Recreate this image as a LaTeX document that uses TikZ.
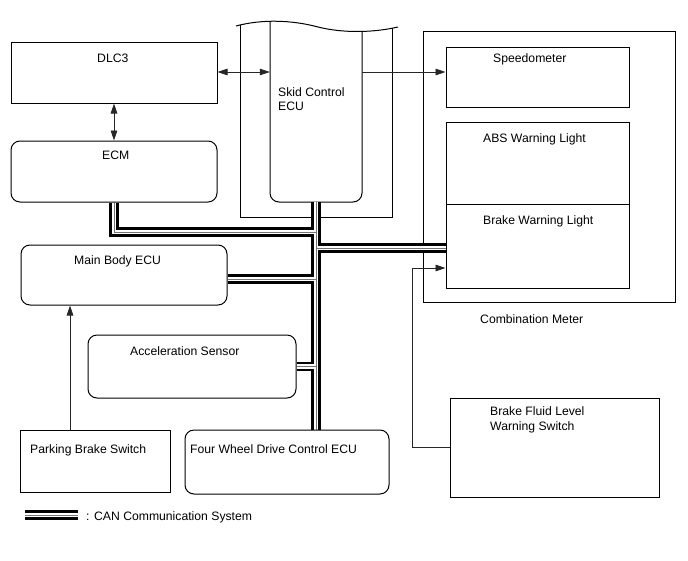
\documentclass[tikz,border=0pt]{standalone}
\usepackage{fontspec}
\setmainfont{Liberation Sans}
\usetikzlibrary{arrows.meta,fit}
\pgfdeclarelayer{lowest}
\pgfdeclarelayer{buslayer}
\pgfsetlayers{lowest,buslayer,main}
\begin{document}
\begin{tikzpicture}[x=1pt,y=-1pt,
  box/.style={draw=black, line width=1pt, inner sep=0pt},
  rbox/.style={box, rounded corners=9pt},
  frame/.style={draw=black, line width=1pt},
  txt/.style={inner sep=0pt, anchor=base west, font=\fontsize{12.2}{14}\selectfont},
  conn/.style={draw=black!85, line width=0.8pt},
  arr/.style={conn, -{Triangle[length=10pt,width=6.5pt]}},
  darr/.style={conn, {Triangle[length=10pt,width=6.5pt]}-{Triangle[length=10pt,width=6.5pt]}},
  busA/.style={line width=9.6pt, black, line join=miter},
  busB/.style={line width=4.6pt, white, line join=miter},
  busC/.style={line width=0.9pt, black!55, line join=miter},
]
\begin{pgfonlayer}{lowest}
\useasboundingbox[fill=white] (0,0) rectangle (688,560);
% outer frames
\node[box, fit={(423,31) (675,302)}] (comb) {};
\node[inner sep=0pt, fit={(270,24) (362,202)}] (skid) {};
\begin{scope}
  \clip (236,26) .. controls (262,19) and (292,20) .. (318,27) .. controls (342,33) and (372,33) .. (398,27) -- (398,230) -- (236,230) -- cycle;
  \draw[frame] (240,10) -- (240,217) -- (392,217) -- (392,10);
  \draw[frame, rounded corners=9pt] (270,10) -- (270,202) -- (362,202) -- (362,10);
\end{scope}
\draw[frame] (236,26) .. controls (262,19) and (292,20) .. (318,27) .. controls (342,33) and (372,33) .. (398,27);
\end{pgfonlayer}

% boxes
\node[box, fit={(11,42) (217,103)}] (dlc) {};
\node[rbox, fit={(11,141) (217,202)}] (ecm) {};
\node[box, fit={(446,47) (629,107)}] (speedo) {};
\node[box, fit={(446,122) (629,204)}] (abs) {};
\node[box, fit={(446,204) (629,288)}] (bwl) {};
\node[rbox, fit={(21,245) (227,305)}] (mbe) {};
\node[rbox, fit={(88,335) (296,398)}] (acc) {};
\node[box, fit={(20,430) (170,492)}] (pbs) {};
\node[rbox, fit={(185,430) (389,494)}] (fwd) {};
\node[box, fit={(450,398) (659,497)}] (bfl) {};

% CAN bus
\coordinate (lg1) at (25,515);
\coordinate (lg2) at (78,515);
\begin{pgfonlayer}{buslayer}
\foreach \s in {busA,busB,busC}{
  \draw[\s] (ecm.south) -- (ecm.south |- 0,232) -- (skid.south |- 0,232);
  \draw[\s] (skid.south) -- (skid.south |- fwd.north);
  \draw[\s] (skid.south |- 0,248) -- (bwl.west |- 0,248);
  \draw[\s] (mbe.east |- 0,279) -- (skid.south |- 0,279);
  \draw[\s] (acc.east) -- (skid.south |- acc.east);
  \draw[\s] (lg1) -- (lg2);
}
\end{pgfonlayer}

% arrows
\draw[darr] (dlc.south) -- (ecm.north);
\draw[darr] (dlc.east |- 0,72) -- (skid.west |- 0,72);
\draw[arr] (skid.east |- 0,72) -- (speedo.west |- 0,72);
\draw[arr] (pbs.north -| 70,0) -- (mbe.south -| 70,0);
\draw[arr] (bfl.west |- 0,447) -- (412,447) -- (412,268) -- (bwl.west |- 0,268);

% texts
\node[txt] (tdlc) at (97,62) {DLC3};
\node[txt] (tecm) at (102,159) {ECM};
\node[txt] (tskid1) at (278,96) {Skid Control};
\node[txt] (tskid2) at (278,110) {ECU};
\node[txt] (tspeedo) at (493,62) {Speedometer};
\node[txt] (tabs) at (483,142) {ABS Warning Light};
\node[txt] (tbwl) at (483,224) {Brake Warning Light};
\node[txt] (tcomb) at (480,323) {Combination Meter};
\node[txt] (tmbe) at (74,264) {Main Body ECU};
\node[txt] (tacc) at (130,355) {Acceleration Sensor};
\node[txt] (tpbs) at (30,453) {Parking Brake Switch};
\node[txt] (tfwd) at (190,453) {Four Wheel Drive Control ECU};
\node[txt] (tbfl1) at (490,415) {Brake Fluid Level};
\node[txt] (tbfl2) at (490,430) {Warning Switch};
\node[txt] (tleg) at (86,520) {: CAN Communication System};
\end{tikzpicture}
\end{document}
